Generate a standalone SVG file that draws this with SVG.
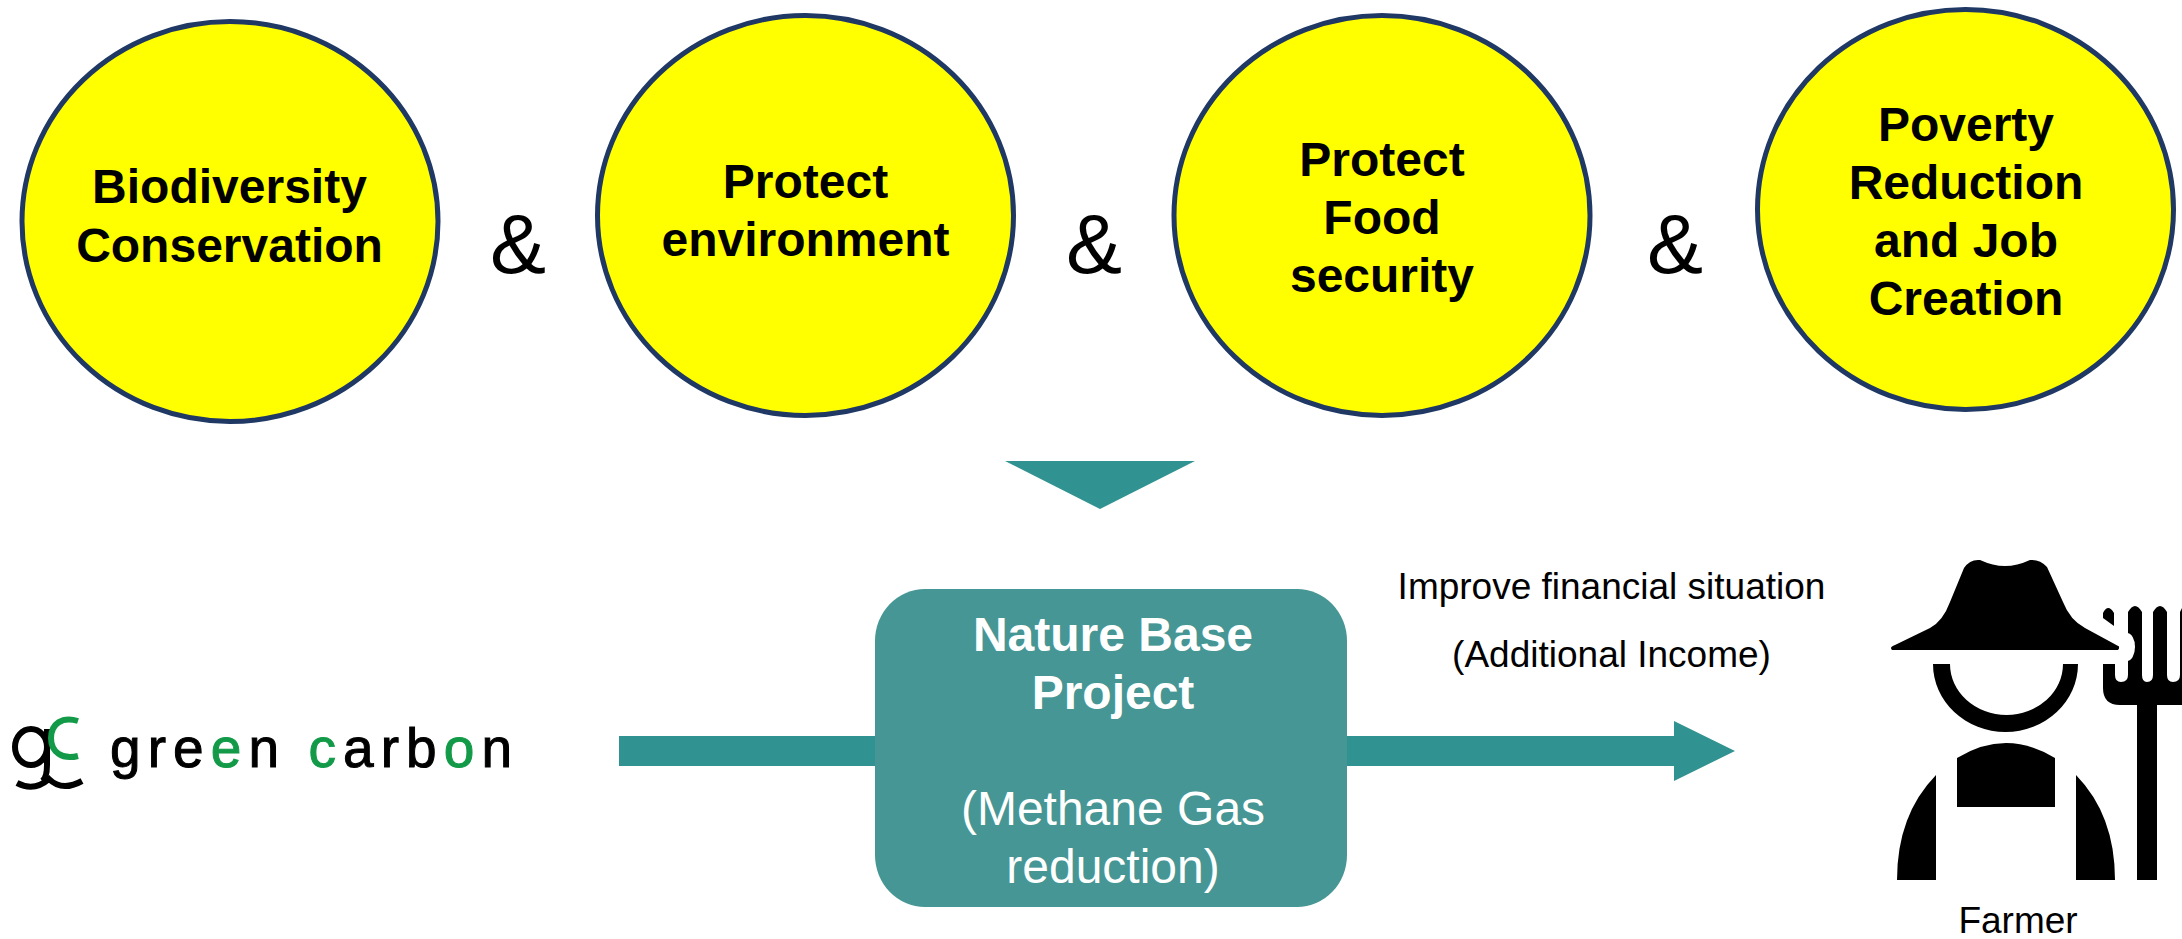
<svg xmlns="http://www.w3.org/2000/svg" width="2182" height="939" viewBox="0 0 2182 939">
<style>
.c{fill:#ffff00;stroke:#1f3864;stroke-width:5}
.h{font:700 48px "Liberation Sans",Arial,sans-serif;fill:#000;text-anchor:middle}
.amp{font:400 84px "Liberation Sans",Arial,sans-serif;fill:#000;text-anchor:middle}
.t{font:400 37px "Liberation Sans",Arial,sans-serif;fill:#000;text-anchor:middle}
.w{font:400 48px "Liberation Sans",Arial,sans-serif;fill:#fff;text-anchor:middle}
.wb{font-weight:700}
.a{fill:#319391}
.lg{font:400 55px "Liberation Sans",Arial,sans-serif;fill:#000;stroke:#000;stroke-width:1}
.gr{fill:#129a48;stroke:#129a48}
</style>
<g id="connectors">
<rect class="a" x="619" y="736" width="256" height="30"/>
<path class="a" d="M1347 736H1674V721L1735 751L1674 781V766H1347Z"/>
<path id="down-arrow" class="a" d="M1005 461H1195L1100 509Z"/>
</g>
<g id="biodiversity"><ellipse class="c" cx="230" cy="221.500" rx="208" ry="200"/>
<text class="h" x="229.500" y="203">Biodiversity</text><text class="h" x="229.500" y="262">Conservation</text></g>
<text class="amp" x="518" y="273">&amp;</text>
<g id="environment"><ellipse class="c" cx="805.500" cy="215.500" rx="208" ry="200"/>
<text class="h" x="805.500" y="198">Protect</text><text class="h" x="805.500" y="256">environment</text></g>
<text class="amp" x="1094" y="273">&amp;</text>
<g id="food"><ellipse class="c" cx="1382" cy="215.500" rx="208" ry="200"/>
<text class="h" x="1382" y="176">Protect</text><text class="h" x="1382" y="234">Food</text><text class="h" x="1382" y="292">security</text></g>
<text class="amp" x="1675" y="273">&amp;</text>
<g id="poverty"><ellipse class="c" cx="1965.500" cy="209.500" rx="208" ry="200"/>
<text class="h" x="1966" y="141">Poverty</text><text class="h" x="1966" y="199">Reduction</text><text class="h" x="1966" y="257">and Job</text><text class="h" x="1966" y="315">Creation</text></g>
<g id="project"><rect x="875" y="589" width="472" height="318" rx="50" ry="52" fill="#459694"/>
<text class="w wb" x="1113" y="651">Nature Base</text><text class="w wb" x="1113" y="709">Project</text>
<text class="w" x="1113" y="825">(Methane Gas</text><text class="w" x="1113" y="883">reduction)</text></g>
<g id="labels"><text class="t" x="1611.500" y="599">Improve financial situation</text><text class="t" x="1611.500" y="667">(Additional Income)</text></g>
<g id="green-carbon">
<text class="lg" x="110" y="767" textLength="402"><tspan>gre</tspan><tspan class="gr">e</tspan><tspan>n </tspan><tspan class="gr">c</tspan><tspan>arb</tspan><tspan class="gr">o</tspan><tspan>n</tspan></text>
<g fill="none" stroke="#000" stroke-width="6">
<ellipse cx="31" cy="747" rx="16" ry="18"/>
<path d="M47 729V765Q47 778 42 781"/>
<path d="M17 783Q34 792 49 779Q62 792 82 781"/>
</g>
<path d="M78 721C62 716 51 724 51 738C51 752 62 760 78 756" fill="none" stroke="#129a48" stroke-width="6"/>
</g>
<g id="farmer">
<path d="M1892 650Q1889 647 1895 645L1930 628Q1943 621 1950 602L1964 568Q1970 559 1980 560Q1993 566 2005 566Q2017 566 2030 560Q2040 559 2047 567L2063 602Q2070 620 2085 628L2120 647L2118 650Z"/>
<path d="M1933 664H1950A56.500 51 0 0 0 2063 664H2078A72.500 68 0 0 1 1933 664Z"/>
<path d="M1957 758Q2006 728 2055 758V807H1957Z"/>
<path d="M1897 880Q1897 815 1936 775V880ZM2076 775Q2115 815 2115 880H2076Z"/>
<path d="M2137 880V705H2120Q2103 705 2103 688V664H2115V675Q2115 682 2121 682Q2128 682 2128 675V612Q2135 600 2142 612V675Q2142 682 2147 682Q2153 682 2153 675V612Q2160 600 2167 612V675Q2167 682 2173 682Q2180 682 2180 675V612L2182 608V705H2157V880Z"/>
<path d="M2103 613Q2108 603 2114 613V626L2103 618Z"/>
<ellipse cx="2127" cy="647" rx="8" ry="14" fill="#fff"/>
<text class="t" x="2018" y="933">Farmer</text>
</g>
</svg>
